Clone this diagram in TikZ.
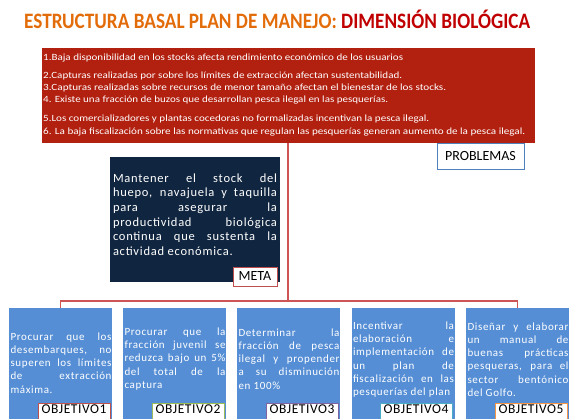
\documentclass[tikz,border=0pt]{standalone}
\usepackage{fontspec}
\setmainfont{Carlito}
\newfontfamily\bxfont[LetterSpace=6]{Carlito}
\newfontfamily\lbfont[LetterSpace=4]{Carlito}
\definecolor{ttorange}{RGB}{227,108,10}
\definecolor{ttred}{RGB}{192,0,0}
\definecolor{probred}{RGB}{178,32,16}
\definecolor{navy}{RGB}{16,37,63}
\definecolor{objblue}{RGB}{85,142,213}
\definecolor{connred}{RGB}{205,85,85}
\definecolor{bred}{RGB}{192,80,77}
\definecolor{bgreen}{RGB}{155,187,89}
\definecolor{bpurple}{RGB}{128,100,162}
\definecolor{bcyan}{RGB}{75,172,198}
\definecolor{borange}{RGB}{247,150,70}
\definecolor{bblue}{RGB}{79,129,189}
\newsavebox\hfitbox
\newcommand\hfit[2]{\sbox\hfitbox{#2}\pgfmathsetmacro\hfitr{#1/\the\wd\hfitbox}\scalebox{\hfitr}[1]{\usebox\hfitbox}}
\newcommand\jl[2]{\makebox[#1][s]{#2}}
\begin{document}
\begin{tikzpicture}[x=1pt,y=-1pt,
  pline/.style={anchor=base west,inner sep=0pt,text=white,font=\fontsize{9.5}{10}\selectfont},
  probbox/.style={fill=probred,inner sep=0pt},
  navybox/.style={fill=navy,inner sep=0pt},
  objbox/.style={fill=objblue,inner sep=0pt,minimum width=103pt,minimum height=117pt},
  objtext/.style={inner sep=0pt,text=white,align=left,font=\bxfont\fontsize{11}{13.2}\selectfont},
  metatext/.style={inner sep=0pt,text=white,align=left,font=\bxfont\fontsize{12.5}{14.6}\selectfont},
  lbl/.style={fill=white,line width=0.8pt,inner sep=0pt,font=\fontsize{14}{16}\selectfont},
  objlbl/.style={fill=white,line width=0.8pt,anchor=north,minimum width=72pt,inner xsep=0pt,inner ysep=0pt,minimum height=0pt,text height=10pt,text depth=10pt,font=\lbfont\fontsize{13.5}{15}\selectfont},
  conn/.style={draw=connred,line width=1.3pt}]
\useasboundingbox (0,0) rectangle (576,418);
% title
\node[anchor=base west,inner sep=0pt,font=\bfseries\fontsize{22}{24}\selectfont] (title) at (24,28)
  {\hfit{506}{\color{ttorange}ESTRUCTURA BASAL PLAN DE MANEJO: \color{ttred}DIMENSIÓN BIOLÓGICA}};
% connectors
\coordinate (jn) at (288,301);
% problems box
\node[probbox,minimum width=493pt,minimum height=95pt] (probs) at (288.5,95.5) {};
\draw[conn] (probs.south -| jn) -- (jn);
\node[pline] (p1) at (43,60) {\hfit{360}{1.Baja disponibilidad en los stocks afecta rendimiento económico de los usuarios}};
\node[pline] (p2) at (43,78) {\hfit{359}{2.Capturas realizadas por sobre los límites de extracción afectan sustentabilidad.}};
\node[pline] (p3) at (43,90) {\hfit{403}{3.Capturas realizadas sobre recursos de menor tamaño afectan el bienestar de los stocks.}};
\node[pline] (p4) at (43,102) {\hfit{345}{4. Existe una fracción de buzos que desarrollan pesca ilegal en las pesquerías.}};
\node[pline] (p5) at (43,121) {\hfit{386}{5.Los comercializadores y plantas cocedoras no formalizadas incentivan la pesca ilegal.}};
\node[pline] (p6) at (43,134) {\hfit{482}{6. La baja fiscalización sobre las normativas que regulan las pesquerías generan aumento de la pesca ilegal.}};
\node[lbl,draw=bblue,minimum width=87pt,minimum height=26pt] (problab) at (480.5,156) {PROBLEMAS};
% meta
\node[navybox,minimum width=170pt,minimum height=125pt] (meta) at (195,219.5) {};
\node[metatext] (metat) at (195,214.5) {%
\jl{164pt}{Mantener el stock del}\\
\jl{164pt}{huepo, navajuela y taquilla}\\
\jl{164pt}{para asegurar la}\\
\jl{164pt}{productividad biológica}\\
\jl{164pt}{continua que sustenta la}\\
\makebox[164pt][l]{actividad económica.}};
\node[lbl,draw=bred,minimum width=44pt,minimum height=19pt] (metalab) at (255,276.5) {META};
% objective boxes
\node[objbox] (ob1) at (60.5,366.5) {};
\node[objbox] (ob2) at (174.5,366.5) {};
\node[objbox] (ob3) at (288.5,366.5) {};
\node[objbox] (ob4) at (403,366.5) {};
\node[objbox] (ob5) at (517.5,366.5) {};
\draw[conn] (ob1.north) |- (jn) -| (ob5.north);
\node[objtext] (ot1) at (61,363) {%
\jl{101pt}{Procurar que los}\\
\jl{101pt}{desembarques, no}\\
\jl{101pt}{superen los límites}\\
\jl{101pt}{de extracción}\\
\makebox[101pt][l]{máxima.}};
\node[objtext] (ot2) at (175,359) {%
\jl{101pt}{Procurar que la}\\
\jl{101pt}{fracción juvenil se}\\
\jl{101pt}{reduzca bajo un 5\%}\\
\jl{101pt}{del total de la}\\
\makebox[101pt][l]{captura}};
\node[objtext] (ot3) at (289,359) {%
\jl{101pt}{Determinar la}\\
\jl{101pt}{fracción de pesca}\\
\jl{101pt}{ilegal y propender}\\
\jl{101pt}{a su disminución}\\
\makebox[101pt][l]{en 100\%}};
\node[objtext] (ot4) at (403.5,359.5) {%
\jl{101pt}{Incentivar la}\\
\jl{101pt}{elaboración e}\\
\jl{101pt}{implementación de}\\
\jl{101pt}{un plan de}\\
\jl{101pt}{fiscalización en las}\\
\makebox[101pt][l]{pesquerías del plan}};
\node[objtext] (ot5) at (518,359.5) {%
\jl{101pt}{Diseñar y elaborar}\\
\jl{101pt}{un manual de}\\
\jl{101pt}{buenas prácticas}\\
\jl{101pt}{pesqueras, para el}\\
\jl{101pt}{sector bentónico}\\
\makebox[101pt][l]{del Golfo.}};
% objective labels (bottom edge runs past the picture, as in the reference)
\node[objlbl,draw=bred] (l1) at (74,403) {OBJETIVO1};
\node[objlbl,draw=bgreen] (l2) at (188,403) {OBJETIVO2};
\node[objlbl,draw=bpurple] (l3) at (302,403) {OBJETIVO3};
\node[objlbl,draw=bcyan] (l4) at (416,403) {OBJETIVO4};
\node[objlbl,draw=borange] (l5) at (531,403) {OBJETIVO5};
\end{tikzpicture}
\end{document}
